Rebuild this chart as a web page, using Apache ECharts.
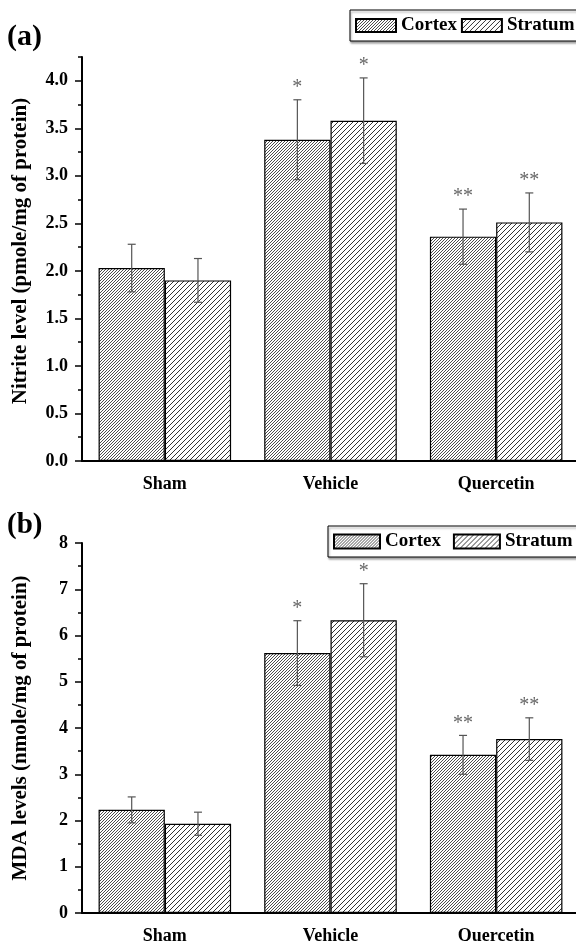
<!DOCTYPE html>
<html>
<head>
<meta charset="utf-8">
<script src="https://cdn.jsdelivr.net/npm/echarts@6/dist/echarts.min.js"></script>
<style>
  html, body { margin: 0; padding: 0; background: #fff; }
  #chart { width: 576px; height: 941px; }
</style>
</head>
<body>
<div id="chart"></div>
<script>
// data
const categories = ['Sham', 'Vehicle', 'Quercetin']

const nitriteCortex = [2.03, 3.38, 2.36]
const nitriteCortexErr = [0.25, 0.42, 0.29]
const nitriteStratum = [1.90, 3.58, 2.51]
const nitriteStratumErr = [0.23, 0.45, 0.31]

const mdaCortex = [2.23, 5.62, 3.42]
const mdaCortexErr = [0.28, 0.70, 0.42]
const mdaStratum = [1.93, 6.33, 3.76]
const mdaStratumErr = [0.25, 0.79, 0.46]

const cortexMarks = ['', '*', '**']
const stratumMarks = ['', '*', '**']

const nitriteTicks = [0, 0.5, 1.0, 1.5, 2.0, 2.5, 3.0, 3.5, 4.0]
const mdaTicks = [0, 1, 2, 3, 4, 5, 6, 7, 8]

const FONT = '"Liberation Serif", "DejaVu Serif", serif'

// diagonal hatch fill
function hatch(period, width, color) {
  const c = document.createElement('canvas')
  c.width = period
  c.height = period
  const ctx = c.getContext('2d')
  ctx.strokeStyle = color
  ctx.lineWidth = width
  ctx.beginPath()
  ctx.moveTo(-1, period + 1)
  ctx.lineTo(period + 1, -1)
  ctx.moveTo(-1, 1)
  ctx.lineTo(1, -1)
  ctx.moveTo(period - 1, period + 1)
  ctx.lineTo(period + 1, period - 1)
  ctx.stroke()
  return { image: c, repeat: 'repeat' }
}

const cortexFill = hatch(3, 0.9, '#3a3a3a')
const stratumFill = hatch(5, 1, '#333')

const grids = [
  { left: 82, top: 57, width: 497, height: 404, outerBoundsMode: 'none' },
  { left: 82, top: 543, width: 497, height: 370, outerBoundsMode: 'none' },
]

function xAxes(gridIndex) {
  return [
    {
      type: 'category',
      gridIndex,
      position: 'bottom',
      data: categories,
      axisLine: { lineStyle: { color: '#000', width: 2 } },
      axisTick: { alignWithLabel: true, length: 7, lineStyle: { color: '#000', width: 1.5 } },
      axisLabel: { color: '#000', fontFamily: FONT, fontWeight: 'bold', fontSize: 18, margin: 14 },
    },
    {
      type: 'category',
      gridIndex,
      position: 'bottom',
      data: categories,
      axisLine: { show: false },
      axisTick: { alignWithLabel: false, length: 4, lineStyle: { color: '#000', width: 1.5 } },
      axisLabel: { show: false },
    },
  ]
}

function yAxes(gridIndex, max, interval, ticks, fmt, name, namePad) {
  return [
    {
      type: 'value',
      gridIndex,
      position: 'left',
      min: 0,
      max,
      interval,
      name,
      nameLocation: 'middle',
      nameGap: 51,
      nameTextStyle: { color: '#000', fontFamily: FONT, fontWeight: 'bold', fontSize: 21, padding: namePad },
      splitLine: { show: false },
      axisLine: { show: true, lineStyle: { color: '#000', width: 2 } },
      axisTick: { show: true, length: 7, customValues: ticks, lineStyle: { color: '#000', width: 1.5 } },
      axisLabel: {
        color: '#000', fontFamily: FONT, fontWeight: 'bold', fontSize: 18, margin: 14,
        customValues: ticks, formatter: fmt,
      },
    },
    {
      type: 'value',
      gridIndex,
      position: 'left',
      min: 0,
      max,
      interval: interval / 2,
      splitLine: { show: false },
      axisLine: { show: false },
      axisTick: { show: true, length: 4, lineStyle: { color: '#000', width: 1.5 } },
      axisLabel: { show: false },
    },
  ]
}

function barSeries(name, axisIdx, values, fill) {
  return {
    type: 'bar',
    name,
    xAxisIndex: axisIdx,
    yAxisIndex: axisIdx,
    data: values,
    barWidth: '40%',
    barGap: '0%',
    itemStyle: { color: fill, borderColor: '#000', borderWidth: 1.2 },
  }
}

function errorSeries(axisIdx, values, errs, marks, offset) {
  return {
    type: 'custom',
    xAxisIndex: axisIdx,
    yAxisIndex: axisIdx,
    z: 10,
    silent: true,
    data: values.map((v, i) => [i, v + errs[i], v - errs[i]]),
    encode: { x: 0, y: [1, 2] },
    renderItem: (params, api) => {
      const i = api.value(0)
      const hi = api.coord([i, api.value(1)])
      const lo = api.coord([i, api.value(2)])
      const band = api.size([1, 0])[0]
      const x = hi[0] + offset * band
      const stroke = { stroke: '#555', lineWidth: 1.2 }
      return {
        type: 'group',
        children: [
          { type: 'line', shape: { x1: x, y1: hi[1], x2: x, y2: lo[1] }, style: stroke },
          { type: 'line', shape: { x1: x - 4, y1: hi[1], x2: x + 4, y2: hi[1] }, style: stroke },
          { type: 'line', shape: { x1: x - 4, y1: lo[1], x2: x + 4, y2: lo[1] }, style: stroke },
          {
            type: 'text',
            style: {
              text: marks[params.dataIndex], x, y: hi[1] - 12,
              align: 'center', verticalAlign: 'middle',
              font: '20px ' + FONT, fill: '#666',
            },
          },
        ],
      }
    },
  }
}

function legend(left, top, itemWidth, itemHeight, itemGap) {
  return {
    left, top, itemWidth, itemHeight, itemGap,
    width: 300,
    orient: 'horizontal',
    icon: 'rect',
    data: ['Cortex', 'Stratum'],
    selectedMode: false,
    padding: [6, 5, 6, 5],
    backgroundColor: '#fff',
    borderColor: '#000',
    borderWidth: 1,
    shadowColor: 'rgba(0,0,0,0.35)',
    shadowOffsetX: 1,
    shadowOffsetY: 2,
    shadowBlur: 2,
    textStyle: { color: '#000', fontFamily: FONT, fontWeight: 'bold', fontSize: 19 },
  }
}

const chart = echarts.init(document.getElementById('chart'))

chart.setOption({
  animation: false,
  backgroundColor: '#fff',
  title: [
    { text: '(a)', left: 7, top: 22, padding: 0, textStyle: { color: '#000', fontFamily: FONT, fontWeight: 'bold', fontSize: 30 } },
    { text: '(b)', left: 7, top: 511, padding: 0, textStyle: { color: '#000', fontFamily: FONT, fontWeight: 'bold', fontSize: 29 } },
  ],
  legend: [
    legend(350, 10, 40, 13, 4),
    legend(328, 526, 46, 14, 12),
  ],
  grid: grids,
  xAxis: [...xAxes(0), ...xAxes(1)],
  yAxis: [
    ...yAxes(0, 4.25, 0.5, nitriteTicks, (v) => v.toFixed(1), 'Nitrite level (pmole/mg of protein)', [0, 0, 0, 16]),
    ...yAxes(1, 8, 1, mdaTicks, (v) => String(v), 'MDA levels (nmole/mg of protein)', 0),
  ],
  series: [
    barSeries('Cortex', 0, nitriteCortex, cortexFill),
    barSeries('Stratum', 0, nitriteStratum, stratumFill),
    errorSeries(0, nitriteCortex, nitriteCortexErr, cortexMarks, -0.2),
    errorSeries(0, nitriteStratum, nitriteStratumErr, stratumMarks, 0.2),
    barSeries('Cortex', 2, mdaCortex, cortexFill),
    barSeries('Stratum', 2, mdaStratum, stratumFill),
    errorSeries(2, mdaCortex, mdaCortexErr, cortexMarks, -0.2),
    errorSeries(2, mdaStratum, mdaStratumErr, stratumMarks, 0.2),
  ],
})
</script>
</body>
</html>
